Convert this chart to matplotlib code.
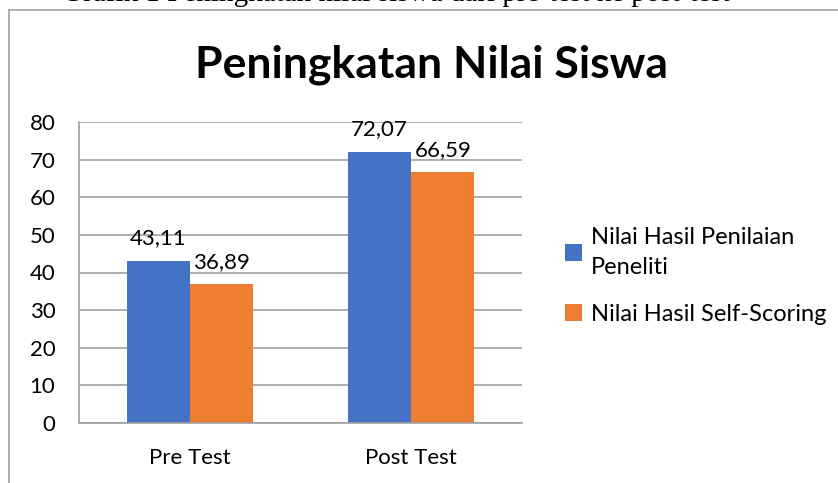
import matplotlib.pyplot as plt
from matplotlib.lines import Line2D
import numpy as np

# data
kategori = ["Pre Test", "Post Test"]
peneliti = [43.11, 72.07]
self_scoring = [36.89, 66.59]
label_peneliti = ["43,11", "72,07"]
label_self = ["36,89", "66,59"]
seri = ["Nilai Hasil Penilaian\nPeneliti", "Nilai Hasil Self-Scoring"]

W, H = 838, 483
fig = plt.figure(figsize=(W / 100, H / 100), dpi=100)
plt.rcParams['font.family'] = ['Lato', 'DejaVu Sans']

# caption of the document (cut off at the top, as in the source page)
fig.text(396 / W, 1 - 1 / H, "Grafik 1 Peningkatan nilai siswa dari pre-test ke post-test",
         family='Liberation Serif', fontsize=21, ha='center', va='baseline')

# chart border (only top and left visible)
grey = '#A0A0A0'
fig.add_artist(Line2D([9 / W, 1], [1 - 10 / H, 1 - 10 / H], color=grey, lw=1.2))
fig.add_artist(Line2D([9 / W, 9 / W], [0, 1 - 10 / H], color=grey, lw=1.2))

fig.text(431 / W, 1 - 65 / H, "Peningkatan Nilai Siswa", fontsize=32,
         fontweight='bold', ha='center', va='center')

ax = fig.add_axes([79 / W, (H - 423) / H, 443 / W, 301 / H])
x = np.arange(len(kategori))
w = 0.285
b1 = ax.bar(x - w / 2, peneliti, w, color='#4472C4', label=seri[0])
b2 = ax.bar(x + w / 2, self_scoring, w, color='#ED7D31', label=seri[1])
for rects, labs in [(b1, label_peneliti), (b2, label_self)]:
    for r, t in zip(rects, labs):
        ax.text(r.get_x() + r.get_width() / 2, r.get_height() + 3.3, t,
                ha='center', va='bottom', fontsize=16)

ax.set_xlim(-0.5, 1.5)
ax.set_ylim(0, 80)
ax.set_yticks(range(0, 81, 10))
ax.set_xticks(x)
ax.set_xticklabels(kategori)
ax.tick_params(axis='y', length=0, labelsize=16, pad=17)
ax.tick_params(axis='x', length=0, labelsize=16, pad=18)
ax.grid(axis='y', color=grey, lw=1.2)
ax.set_axisbelow(True)
for s in ['top', 'right']:
    ax.spines[s].set_visible(False)
for s in ['left', 'bottom']:
    ax.spines[s].set_color(grey)
    ax.spines[s].set_linewidth(1.2)

leg = ax.legend(loc='upper left', bbox_to_anchor=(544 / W, 1 - 206 / H),
                bbox_transform=fig.transFigure, frameon=False, fontsize=17,
                handlelength=0.7, handleheight=0.7, handletextpad=0.4,
                labelspacing=1.1)
for t in leg.get_texts():
    t.set_linespacing(1.5)

fig.savefig("out.png", dpi=100)
